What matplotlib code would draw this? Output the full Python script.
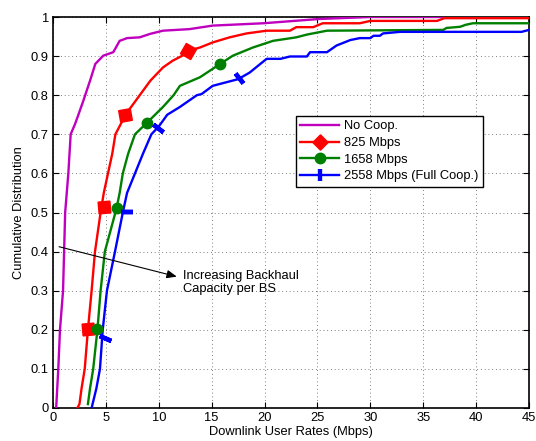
import matplotlib
matplotlib.use("Agg")
import matplotlib.pyplot as plt
from matplotlib.lines import Line2D
import numpy as np

plt.rcParams['font.family'] = ['Liberation Sans', 'DejaVu Sans']

# ---------------- data ----------------
series_labels = ["No Coop.", "825 Mbps", "1658 Mbps", "2558 Mbps (Full Coop.)"]

nocoop_x = [0.3, 0.4, 0.5, 0.66, 0.95, 1.05, 1.15, 1.45, 1.67, 2.08, 2.4, 2.87, 3.5, 4.0,
            4.75, 5.7, 6.3, 7.0, 8.2, 9.2, 10.4, 12.9, 15.1, 19.9, 25.2, 30.0, 45.0]
nocoop_y = [0.0, 0.05, 0.1, 0.2, 0.3, 0.4, 0.5, 0.6, 0.7, 0.726, 0.75, 0.786, 0.837, 0.88,
            0.901, 0.91, 0.939, 0.946, 0.948, 0.957, 0.965, 0.969, 0.978, 0.984, 0.995, 1.0, 1.0]

bh825_x = [2.3, 2.5, 2.7, 3.0, 3.3, 3.65, 3.97, 4.5, 4.8, 5.2, 5.6, 5.9, 6.9, 8.2, 9.2, 10.4,
           11.3, 12.5, 12.8, 13.9, 15.1, 16.7, 18.3, 20.2, 22.4, 23.0, 24.6, 25.5, 29.0, 30.0,
           36.3, 37.0, 45.0]
bh825_y = [0.0, 0.01, 0.05, 0.1, 0.2, 0.3, 0.4, 0.5, 0.55, 0.6, 0.65, 0.7, 0.752, 0.8, 0.837,
           0.871, 0.888, 0.905, 0.914, 0.922, 0.935, 0.948, 0.958, 0.965, 0.965, 0.974, 0.974,
           0.984, 0.984, 0.99, 0.99, 0.997, 0.997]

bh1658_x = [3.3, 3.5, 3.8, 4.2, 4.5, 4.9, 5.4, 6.0, 6.3, 6.6, 7.1, 7.75, 8.9, 10.4, 11.4, 12.0,
            13.9, 15.8, 17.0, 18.9, 20.8, 23.0, 24.0, 25.9, 36.9, 37.2, 38.5, 39.0, 39.7, 45.0]
bh1658_y = [0.01, 0.05, 0.1, 0.2, 0.3, 0.4, 0.45, 0.51, 0.55, 0.6, 0.65, 0.7, 0.73, 0.77, 0.8,
            0.824, 0.846, 0.88, 0.901, 0.922, 0.939, 0.948, 0.955, 0.965, 0.967, 0.972, 0.975,
            0.98, 0.984, 0.984]

bh2558_x = [3.65, 4.1, 4.44, 4.7, 5.1, 5.86, 6.6, 7.0, 7.75, 8.5, 9.3, 10.0, 10.8, 12.0, 13.6,
            14.05, 15.1, 17.5, 18.6, 19.6, 20.2, 21.5, 22.4, 24.0, 24.3, 25.9, 26.8, 28.1, 29.0,
            30.0, 30.3, 30.9, 31.2, 32.8, 44.3, 45.0]
bh2558_y = [0.0, 0.05, 0.1, 0.2, 0.3, 0.4, 0.5, 0.55, 0.6, 0.65, 0.7, 0.72, 0.75, 0.77, 0.8,
            0.803, 0.824, 0.841, 0.858, 0.88, 0.893, 0.893, 0.899, 0.899, 0.91, 0.91, 0.927,
            0.941, 0.946, 0.946, 0.952, 0.952, 0.958, 0.962, 0.962, 0.967]

# marker points
bh825_mx = [3.3, 4.8, 6.85, 12.8]
bh825_my = [0.202, 0.514, 0.75, 0.913]
bh1658_mx = [4.2, 6.05, 8.85, 15.8]
bh1658_my = [0.202, 0.511, 0.73, 0.881]
bh2558_mx = [4.95, 7.0, 9.95, 17.6]
bh2558_my = [0.18, 0.501, 0.717, 0.843]

x_ticks = [0, 5, 10, 15, 20, 25, 30, 35, 40, 45]
y_ticks = [0, 0.1, 0.2, 0.3, 0.4, 0.5, 0.6, 0.7, 0.8, 0.9, 1]
y_ticklabels = ["0", "0.1", "0.2", "0.3", "0.4", "0.5", "0.6", "0.7", "0.8", "0.9", "1"]

annot_text = "Increasing Backhaul\nCapacity per BS"

# ---------------- styling ----------------
c_mag = '#BF00BF'
c_red = '#FF0000'
c_grn = '#008000'
c_blu = '#0000FF'
lw = 1.7
fs = 9.3

red_rot = [50, 50, 55, 15]
blue_rot = [67, 90, 52, 39]

fig = plt.figure(figsize=(5.36, 4.41), dpi=100)
ax = fig.add_axes([53 / 536, 33 / 441, 476 / 536, 391 / 441])

ax.plot(nocoop_x, nocoop_y, color=c_mag, lw=lw, zorder=3)
ax.plot(bh825_x, bh825_y, color=c_red, lw=lw, zorder=3)
ax.plot(bh1658_x, bh1658_y, color=c_grn, lw=lw, zorder=3)
ax.plot(bh2558_x, bh2558_y, color=c_blu, lw=lw, zorder=3)

for x, y, r in zip(bh825_mx, bh825_my, red_rot):
    ax.plot([x], [y], linestyle='none', marker=(4, 0, r), markersize=12,
            color=c_red, markeredgecolor=c_red, zorder=4)
ax.plot(bh1658_mx, bh1658_my, linestyle='none', marker='o', markersize=7.5,
        color=c_grn, markeredgecolor=c_grn, zorder=4)
for x, y, r in zip(bh2558_mx, bh2558_my, blue_rot):
    ax.plot([x], [y], linestyle='none', marker=(2, 2, r), markersize=9,
            markeredgewidth=3.2, color=c_blu, zorder=4)

ax.set_xlim(0, 45)
ax.set_ylim(0, 1)
ax.set_xticks(x_ticks)
ax.set_yticks(y_ticks)
ax.set_yticklabels(y_ticklabels)
ax.tick_params(direction='in', length=4, width=0.8, top=True, right=True,
               labelsize=fs, pad=3)
for s in ax.spines.values():
    s.set_linewidth(1.2)
ax.grid(True, color='#555555', linestyle=(0, (1, 3.5)), linewidth=0.6)

ax.set_xlabel("Downlink User Rates (Mbps)", fontsize=fs, labelpad=1)
ax.set_ylabel("Cumulative Distribution", fontsize=fs, labelpad=4)

# annotation
ax.annotate("", xy=(11.7, 0.336), xytext=(0.57, 0.4125),
            arrowprops=dict(arrowstyle='-|>,head_length=0.6,head_width=0.25',
                            color='black', lw=0.8, shrinkA=0, shrinkB=0), zorder=5)
ax.text(12.25, 0.32, annot_text, fontsize=fs, ha='left', va='center',
        linespacing=1.1, zorder=5)

handles = [
    Line2D([], [], color=c_mag, lw=lw),
    Line2D([], [], color=c_red, lw=lw, marker=(4, 0, 0), markersize=11),
    Line2D([], [], color=c_grn, lw=lw, marker='o', markersize=7.5),
    Line2D([], [], color=c_blu, lw=lw, marker=(2, 2, 0), markersize=9, markeredgewidth=3),
]
leg = ax.legend(handles, series_labels, loc='upper left', bbox_to_anchor=(0.51, 0.747),
                borderaxespad=0, fontsize=fs, frameon=True, fancybox=False,
                edgecolor='black', framealpha=1, handlelength=3.0, handletextpad=0.4,
                labelspacing=0.35, borderpad=0.35)
leg.get_frame().set_linewidth(1.0)

fig.savefig("out.png", dpi=100)
